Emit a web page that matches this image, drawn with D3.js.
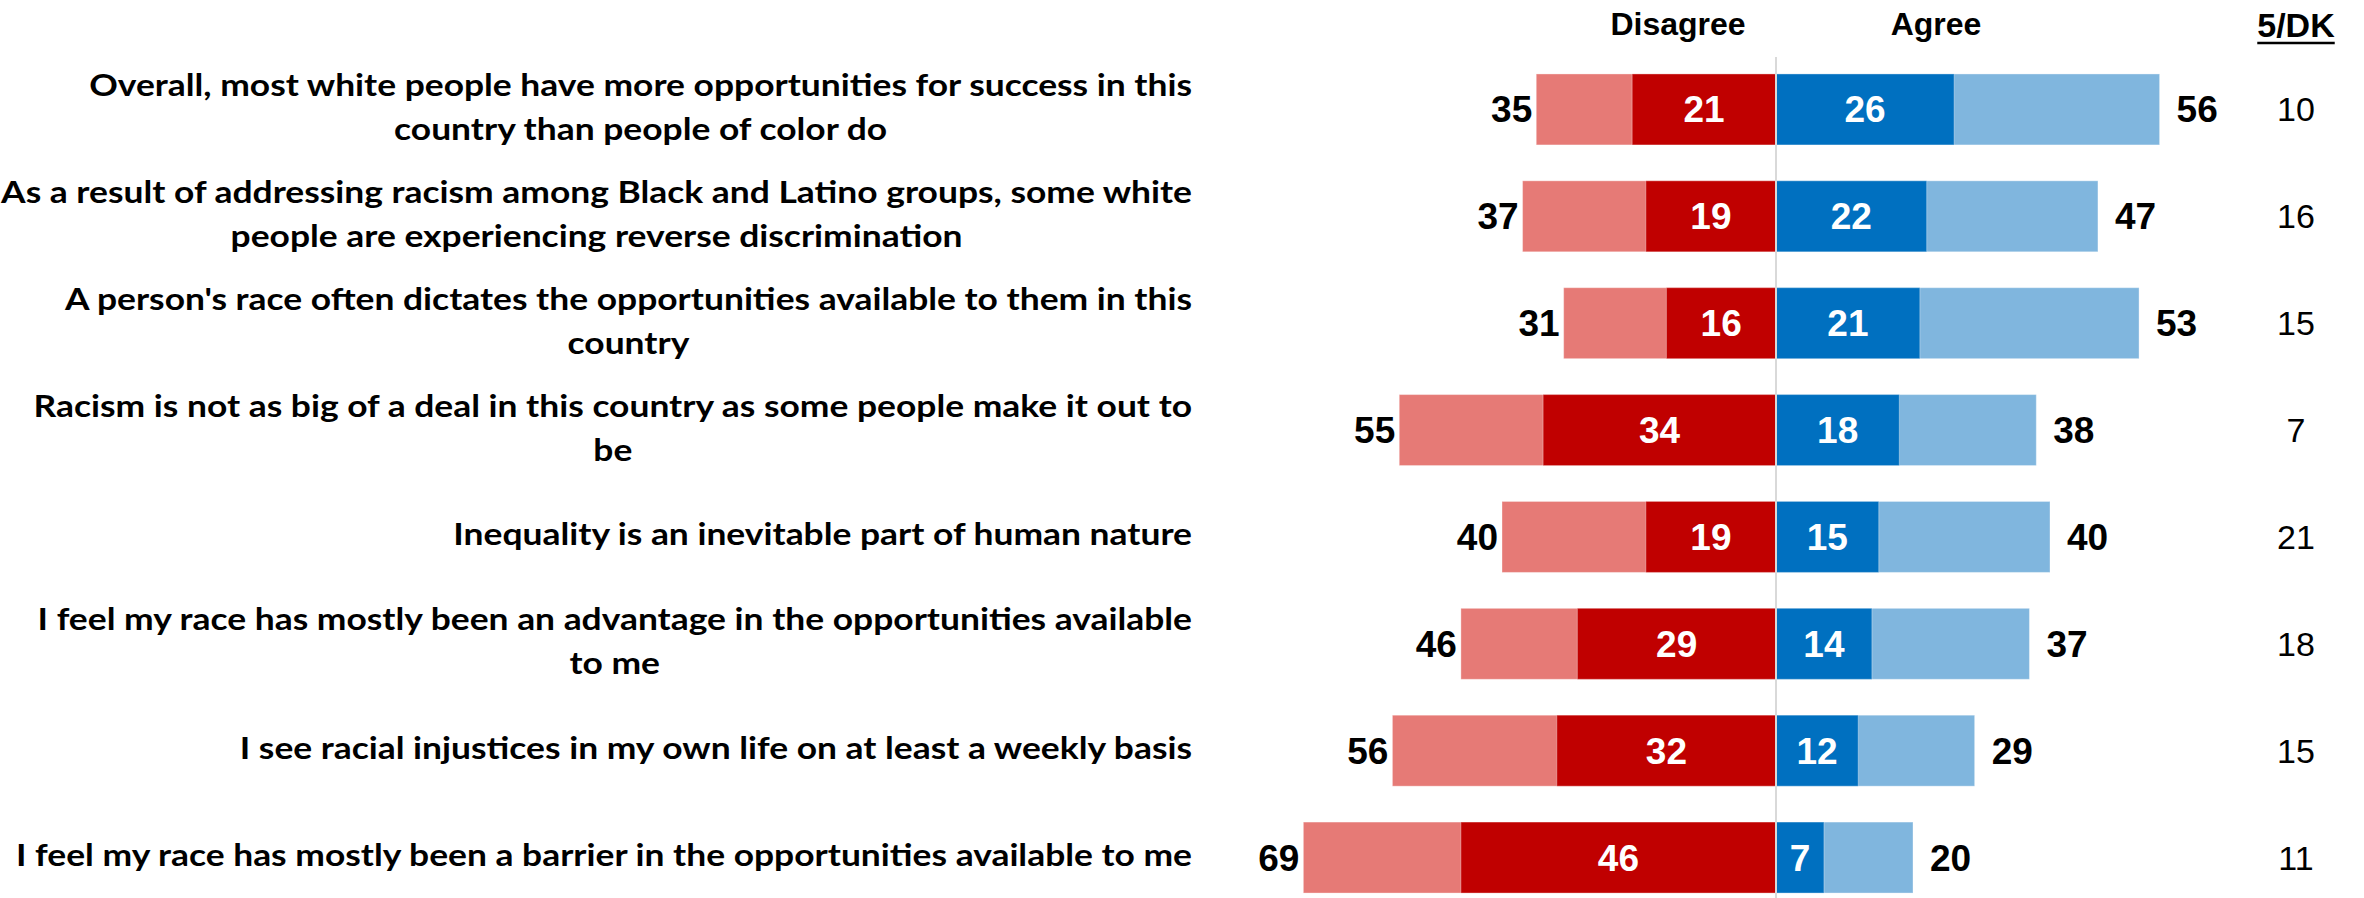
<!DOCTYPE html>
<html>
<head>
<meta charset="utf-8">
<script src="https://cdn.jsdelivr.net/npm/d3@7"></script>
<style>
  html, body { margin: 0; padding: 0; background: #fff; }
  svg { display: block; }
</style>
</head>
<body>
<div id="chart"></div>
<script>
// Statements (line breaks as wrapped in the chart)
const categories = [
  ["Overall, most white people have more opportunities for success in this", "country than people of color do"],
  ["As a result of addressing racism among Black and Latino groups, some white", "people are experiencing reverse discrimination"],
  ["A person's race often dictates the opportunities available to them in this", "country"],
  ["Racism is not as big of a deal in this country as some people make it out to", "be"],
  ["Inequality is an inevitable part of human nature"],
  ["I feel my race has mostly been an advantage in the opportunities available", "to me"],
  ["I see racial injustices in my own life on at least a weekly basis"],
  ["I feel my race has mostly been a barrier in the opportunities available to me"]
];

// Percentages
const disagreeTotal     = [35, 37, 31, 55, 40, 46, 56, 69];
const stronglyDisagree  = [21, 19, 16, 34, 19, 29, 32, 46];
const stronglyAgree     = [26, 22, 21, 18, 15, 14, 12, 7];
const agreeTotal        = [56, 47, 53, 38, 40, 37, 29, 20];
const neutralDontKnow   = [10, 16, 15, 7, 21, 18, 15, 11];

const columnHeaders = ["Disagree", "Agree", "5/DK"];

const W = 2364, H = 898;
const colors = {
  lightRed: "#E67A76",
  darkRed: "#C00000",
  darkBlue: "#0070C0",
  lightBlue: "#80B6DE",
  axis: "#D9D9D9"
};

const svg = d3.select("#chart").append("svg")
  .attr("width", W).attr("height", H);

const centerX = 1776;
const x = d3.scaleLinear().domain([-70, 70]).range([centerX - 479.5, centerX + 479.5]);
const y = d3.scaleBand()
  .domain(d3.range(categories.length))
  .range([56, 911])
  .paddingInner(0.336)
  .paddingOuter(0.168);

const rows = categories.map((lines, i) => ({
  i, lines,
  disT: disagreeTotal[i], disS: stronglyDisagree[i],
  agrS: stronglyAgree[i], agrT: agreeTotal[i], dk: neutralDontKnow[i]
}));

const numFont = "'Liberation Sans', Arial, sans-serif";
const labelFont = "Lato, 'Open Sans', 'Liberation Sans', sans-serif";

// Bars
const g = svg.append("g");
const segs = [];
rows.forEach(r => {
  segs.push({ r, x0: -r.disT, x1: 0, c: colors.lightRed });
  segs.push({ r, x0: -r.disS, x1: 0, c: colors.darkRed });
  segs.push({ r, x0: 0, x1: r.agrT, c: colors.lightBlue });
  segs.push({ r, x0: 0, x1: r.agrS, c: colors.darkBlue });
});
g.selectAll("rect.seg").data(segs).join("rect")
  .attr("class", "seg")
  .attr("x", d => x(d.x0))
  .attr("y", d => y(d.r.i))
  .attr("width", d => x(d.x1) - x(d.x0))
  .attr("height", y.bandwidth())
  .attr("fill", d => d.c)
  .attr("stroke", "#fff")
  .attr("stroke-opacity", 0.35)
  .attr("stroke-width", 1);

// Zero line
svg.append("line")
  .attr("x1", x(0)).attr("x2", x(0))
  .attr("y1", 57).attr("y2", H)
  .attr("stroke", colors.axis).attr("stroke-width", 2);

const mid = i => y(i) + y.bandwidth() / 2;

// Totals outside the bars
g.selectAll("text.disT").data(rows).join("text")
  .attr("x", d => x(-d.disT) - 4)
  .attr("y", d => mid(d.i) + 13)
  .attr("text-anchor", "end")
  .attr("font-family", numFont).attr("font-weight", "bold").attr("font-size", 37)
  .attr("fill", "#000")
  .text(d => d.disT);

g.selectAll("text.agrT").data(rows).join("text")
  .attr("x", d => x(d.agrT) + 17)
  .attr("y", d => mid(d.i) + 13)
  .attr("text-anchor", "start")
  .attr("font-family", numFont).attr("font-weight", "bold").attr("font-size", 37)
  .attr("fill", "#000")
  .text(d => d.agrT);

// Strong values inside the dark segments
g.selectAll("text.disS").data(rows).join("text")
  .attr("x", d => (x(-d.disS) + x(0)) / 2)
  .attr("y", d => mid(d.i) + 13)
  .attr("text-anchor", "middle")
  .attr("font-family", numFont).attr("font-weight", "bold").attr("font-size", 37)
  .attr("fill", "#fff")
  .text(d => d.disS);

g.selectAll("text.agrS").data(rows).join("text")
  .attr("x", d => (x(d.agrS) + x(0)) / 2)
  .attr("y", d => mid(d.i) + 13)
  .attr("text-anchor", "middle")
  .attr("font-family", numFont).attr("font-weight", "bold").attr("font-size", 37)
  .attr("fill", "#fff")
  .text(d => d.agrS);

// Neutral / don't know column
const dkX = 2296;
g.selectAll("text.dk").data(rows).join("text")
  .attr("x", dkX)
  .attr("y", d => mid(d.i) + 12)
  .attr("text-anchor", "middle")
  .attr("font-family", numFont).attr("font-size", 34)
  .attr("fill", "#000")
  .text(d => d.dk);

// Column headers
const hdr = svg.append("g")
  .attr("font-family", numFont).attr("font-weight", "bold").attr("font-size", 32)
  .attr("text-anchor", "middle").attr("fill", "#000");
hdr.append("text").attr("x", 1678).attr("y", 35).text(columnHeaders[0]);
hdr.append("text").attr("x", 1936).attr("y", 35).text(columnHeaders[1]);
const dkHead = hdr.append("text").attr("x", dkX).attr("y", 37).attr("font-size", 34).text(columnHeaders[2]);
const dkW = dkHead.node().getComputedTextLength();
hdr.append("line")
  .attr("x1", dkX - dkW / 2).attr("x2", dkX + dkW / 2)
  .attr("y1", 43).attr("y2", 43)
  .attr("stroke", "#000").attr("stroke-width", 2.5);

// Statement labels: each line centred within a block right-aligned at labelRight
const labelRight = 1192;
const lineGap = 44;
const labelSize = 31;
const lab = svg.append("g")
  .attr("font-family", labelFont).attr("font-weight", "bold")
  .attr("font-size", labelSize).attr("fill", "#000");

// horizontal squeeze so the widest line spans the available width
const probe = lab.append("text").text(categories[7][0]);
const squeeze = 1176 / probe.node().getComputedTextLength();
probe.remove();

rows.forEach(r => {
  const n = r.lines.length;
  const block = lab.append("g");
  const texts = r.lines.map((s, k) => {
    const t = block.append("text")
      .attr("y", mid(r.i) + 8.5 + (k - (n - 1) / 2) * lineGap)
      .attr("text-anchor", "middle")
      .text(s);
    const w = t.node().getComputedTextLength() * squeeze;
    t.attr("textLength", w).attr("lengthAdjust", "spacingAndGlyphs");
    return { t, w };
  });
  const maxW = d3.max(texts, d => d.w);
  texts.forEach(d => d.t.attr("x", labelRight - maxW / 2));
});
</script>
</body>
</html>
